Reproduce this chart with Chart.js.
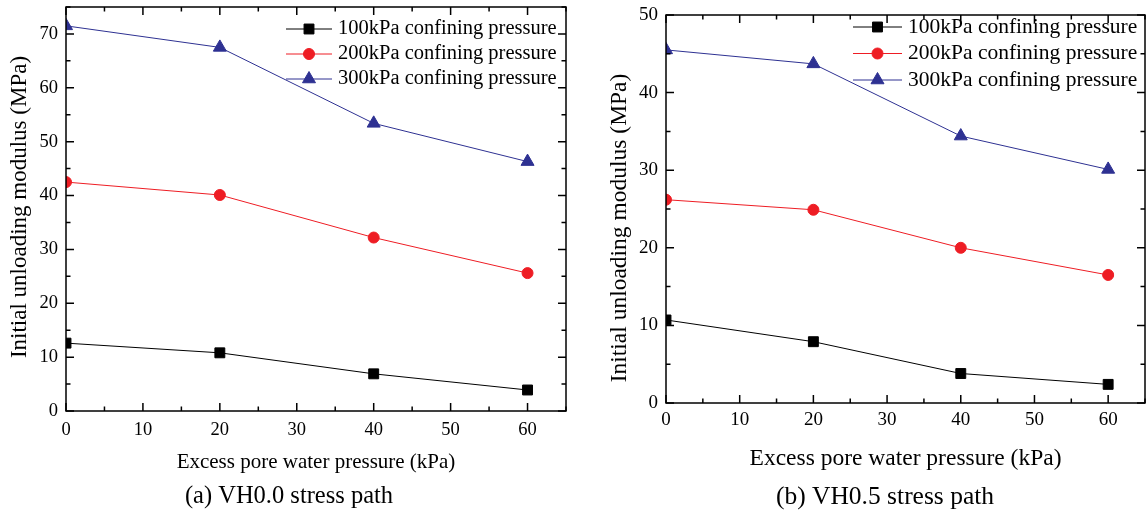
<!DOCTYPE html>
<html>
<head>
<meta charset="utf-8">
<script src="https://cdn.jsdelivr.net/npm/chart.js@4.4.1/dist/chart.umd.min.js"></script>
<style>
  html, body { margin: 0; padding: 0; background: #fff; }
  body { width: 1148px; height: 515px; position: relative; overflow: hidden; }
  canvas { position: absolute; top: 0; }
  #chartA { left: 0; }
  #chartB { left: 600px; }
</style>
</head>
<body>
<canvas id="chartA" width="580" height="515"></canvas>
<canvas id="chartB" width="548" height="515"></canvas>
<script>
// Excess pore water pressure (kPa)
const pressures = [0, 20, 40, 60];
const seriesNames = ['100kPa confining pressure', '200kPa confining pressure', '300kPa confining pressure'];

// (a) VH0.0 stress path - initial unloading modulus (MPa)
const vh00_100 = [12.6, 10.8, 6.9, 3.9];
const vh00_200 = [42.5, 40.1, 32.2, 25.6];
const vh00_300 = [71.5, 67.5, 53.4, 46.3];

// (b) VH0.5 stress path
const vh05_100 = [10.7, 7.9, 3.8, 2.4];
const vh05_200 = [26.2, 24.9, 20.0, 16.5];
const vh05_300 = [45.5, 43.7, 34.4, 30.1];

// axis ranges
const xMax = 65;
const yMaxA = 75;
const yMaxB = 50;
const majorStep = 10;
const minorStep = 5;

const FONT = "'Liberation Serif', 'Times New Roman', serif";
const colors = ['#000000', '#ee1d24', '#2e3192'];
const pointStyles = ['rect', 'circle', 'triangle'];
const radii = [7, 5.5, 7.5];

// box around the plot with inward ticks on all four sides
const frameTicks = {
    id: 'frameTicks',
    afterDraw(chart) {
        const { ctx, chartArea: a, scales: { x, y } } = chart;
        ctx.save();
        ctx.strokeStyle = '#000';
        ctx.lineWidth = 1.5;
        ctx.strokeRect(a.left, a.top, a.right - a.left, a.bottom - a.top);
        ctx.beginPath();
        for (let v = x.min; v <= x.max; v += minorStep) {
            const px = x.getPixelForValue(v);
            const len = v % majorStep === 0 ? 8 : 4.5;
            ctx.moveTo(px, a.bottom); ctx.lineTo(px, a.bottom - len);
            ctx.moveTo(px, a.top); ctx.lineTo(px, a.top + len);
        }
        for (let v = y.min; v <= y.max; v += minorStep) {
            const py = y.getPixelForValue(v);
            const len = v % majorStep === 0 ? 8 : 4.5;
            ctx.moveTo(a.left, py); ctx.lineTo(a.left + len, py);
            ctx.moveTo(a.right, py); ctx.lineTo(a.right - len, py);
        }
        ctx.stroke();
        ctx.restore();
    }
};

// rotated y axis title and the panel caption underneath
const labels = {
    id: 'labels',
    afterDraw(chart, args, opts) {
        const { ctx, chartArea: a } = chart;
        ctx.save();
        ctx.fillStyle = '#000';
        ctx.textAlign = 'center';
        ctx.textBaseline = 'middle';
        ctx.font = opts.captionSize + 'px ' + FONT;
        ctx.fillText(opts.caption, opts.captionX, opts.captionY);
        ctx.translate(opts.yTitleX, (a.top + a.bottom) / 2 + opts.yTitleDy);
        ctx.rotate(-Math.PI / 2);
        ctx.font = opts.yTitleSize + 'px ' + FONT;
        ctx.fillText(opts.yTitle, 0, 0);
        ctx.restore();
    }
};

// legend drawn inside the plot, top right
const insideLegend = {
    id: 'insideLegend',
    afterDraw(chart, args, opts) {
        const { ctx, chartArea: a } = chart;
        ctx.save();
        ctx.font = opts.size + 'px ' + FONT;
        ctx.textBaseline = 'middle';
        chart.data.datasets.forEach((ds, i) => {
            const yy = a.top + opts.top + i * opts.rowGap;
            const x1 = a.right - opts.fromRight;
            const x2 = x1 + opts.lineLen;
            ctx.strokeStyle = ds.borderColor;
            ctx.fillStyle = ds.backgroundColor;
            ctx.lineWidth = 1;
            ctx.beginPath();
            ctx.moveTo(x1, yy); ctx.lineTo(x2, yy);
            ctx.stroke();
            Chart.helpers.drawPoint(ctx, { pointStyle: ds.pointStyle, radius: ds.pointRadius, borderWidth: 1, rotation: 0 }, (x1 + x2) / 2, yy);
            ctx.fillStyle = '#000';
            ctx.fillText(ds.label, x2 + opts.gap, yy);
        });
        ctx.restore();
    }
};

function noPad(s) {
    s.paddingTop = 0; s.paddingBottom = 0;
    s.paddingLeft = 0; s.paddingRight = 0;
}

function makeChart(id, series, cfg) {
    return new Chart(document.getElementById(id), {
        type: 'line',
        data: {
            datasets: series.map((vals, i) => ({
                label: seriesNames[i],
                data: pressures.map((p, k) => ({ x: p, y: vals[k] })),
                borderColor: colors[i],
                backgroundColor: colors[i],
                borderWidth: 1,
                pointStyle: pointStyles[i],
                pointRadius: radii[i],
                pointBorderWidth: 1,
                tension: 0
            }))
        },
        options: {
            responsive: false,
            animation: false,
            events: [],
            layout: {
                autoPadding: false,
                padding: { left: 0, right: cfg.padRight, top: cfg.padTop, bottom: cfg.padBottom }
            },
            plugins: {
                legend: { display: false },
                tooltip: { enabled: false },
                title: { display: false },
                labels: cfg.labels,
                insideLegend: cfg.legend
            },
            scales: {
                x: {
                    type: 'linear',
                    min: 0,
                    max: xMax,
                    grid: { display: false, drawTicks: false },
                    border: { display: false },
                    ticks: {
                        stepSize: majorStep,
                        includeBounds: false,
                        maxRotation: 0,
                        color: '#000',
                        padding: cfg.xTickPad,
                        font: { family: FONT, size: cfg.tickSize }
                    },
                    title: {
                        display: true,
                        text: 'Excess pore water pressure (kPa)',
                        color: '#000',
                        font: { family: FONT, size: cfg.xTitleSize },
                        padding: { top: 0, bottom: 0 }
                    },
                    afterFit(s) { s.height = cfg.xHeight; noPad(s); }
                },
                y: {
                    type: 'linear',
                    min: 0,
                    max: cfg.yMax,
                    grid: { display: false, drawTicks: false },
                    border: { display: false },
                    ticks: {
                        stepSize: majorStep,
                        includeBounds: false,
                        color: '#000',
                        padding: 8,
                        font: { family: FONT, size: cfg.tickSize }
                    },
                    afterFit(s) { s.width = 66; noPad(s); }
                }
            }
        },
        plugins: [frameTicks, labels, insideLegend]
    });
}

makeChart('chartA', [vh00_100, vh00_200, vh00_300], {
    yMax: yMaxA,
    padRight: 14,
    padTop: 7,
    padBottom: 40,
    xHeight: 64,
    tickSize: 18.5,
    xTickPad: 8,
    xTitleSize: 21,
    labels: {
        caption: '(a) VH0.0 stress path', captionSize: 24.5, captionX: 289, captionY: 497,
        yTitle: 'Initial unloading modulus (MPa)', yTitleSize: 23, yTitleX: 20, yTitleDy: -2
    },
    legend: { size: 20.5, top: 22, rowGap: 25, fromRight: 280, lineLen: 46, gap: 6 }
});

makeChart('chartB', [vh05_100, vh05_200, vh05_300], {
    yMax: yMaxB,
    padRight: 3,
    padTop: 15,
    padBottom: 42,
    xHeight: 70,
    tickSize: 19,
    xTickPad: 6,
    xTitleSize: 23.5,
    labels: {
        caption: '(b) VH0.5 stress path', captionSize: 25.5, captionX: 285, captionY: 497,
        yTitle: 'Initial unloading modulus (MPa)', yTitleSize: 23.5, yTitleX: 20, yTitleDy: 19
    },
    legend: { size: 21.5, top: 12, rowGap: 26.5, fromRight: 292, lineLen: 49, gap: 6 }
});
</script>
</body>
</html>
